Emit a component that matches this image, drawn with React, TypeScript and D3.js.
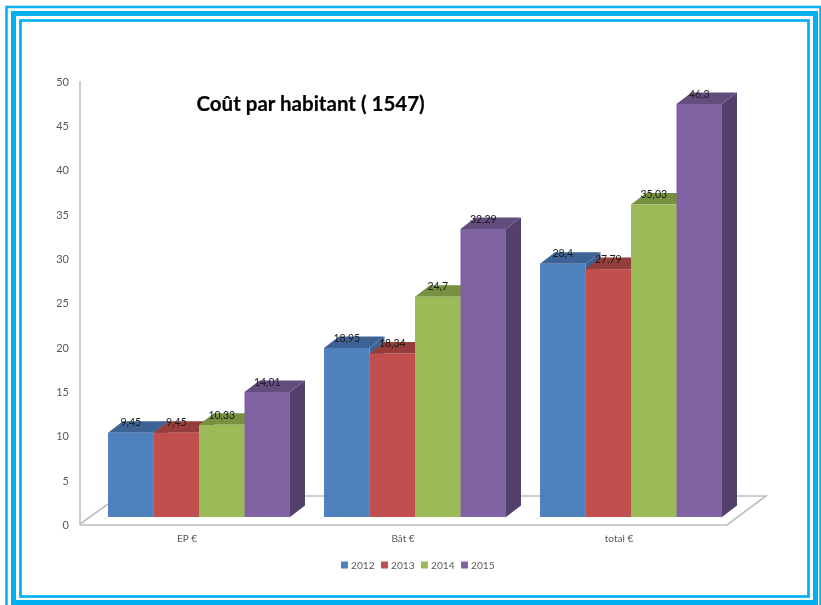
import React from "react";
import * as d3 from "d3";

const categories = ["EP €", "Bât €", "total €"];
const years = ["2012", "2013", "2014", "2015"];
const v2012 = [9.45, 18.95, 28.4];
const v2013 = [9.45, 18.34, 27.79];
const v2014 = [10.33, 24.7, 35.03];
const v2015 = [14.01, 32.29, 46.3];
const seriesValues = [v2012, v2013, v2014, v2015];
const labels2012 = ["9,45", "18,95", "28,4"];
const labels2013 = ["9,45", "18,34", "27,79"];
const labels2014 = ["10,33", "24,7", "35,03"];
const labels2015 = ["14,01", "32,29", "46,3"];
const seriesLabels = [labels2012, labels2013, labels2014, labels2015];
const yTicks = [0, 5, 10, 15, 20, 25, 30, 35, 40, 45, 50];
const frontColors = ["#4F81BD", "#C0504D", "#9BBB59", "#8064A2"];
const topColors = ["#3C6494", "#943D3A", "#779141", "#634D7E"];
const sideColors = ["#3C6494", "#943D3A", "#779141", "#533F6C"];

const FONT = "Lato, Carlito, Calibri, sans-serif";
const DX = 15;
const DY = 11.5;

export default function App() {
  const yAxis = d3.scaleLinear().domain([0, 50]).range([525, 82]);
  const yBar = d3.scaleLinear().domain([0, 50]).range([517, 71]);
  const xGroup = d3.scaleBand().domain(categories).range([108, 722]).paddingInner(34 / 216).paddingOuter(0);
  const xBar = d3.scaleBand().domain(years).range([0, xGroup.bandwidth()]);
  const base = yBar(0);

  const poly = (pts: [number, number][]) => d3.line()(pts) + "Z";
  const open = (pts: [number, number][]) => d3.line()(pts) as string;

  return (
    <svg width={821} height={605} style={{ position: "absolute", left: 0, top: 0, background: "#fff" }}>
      <defs>
        <filter id="soft" x="-5%" y="-5%" width="110%" height="110%">
          <feGaussianBlur stdDeviation="0.5" />
        </filter>
      </defs>
      {/* frame */}
      <g fill="none" stroke="#00B0F0">
        <rect x={6.5} y={7} width={814} height={602} strokeWidth={2.5} />
        <rect x={13.5} y={13.5} width={802} height={589} strokeWidth={5} />
        <rect x={20.5} y={20.5} width={788} height={576} strokeWidth={2.7} />
      </g>
      <g filter="url(#soft)">
        {/* floor and axis */}
        <g fill="none" stroke="#BFBFBF" strokeWidth={1.6}>
          <path d={open([[80, 524], [108, 504]])} />
          <path d={open([[108, 496], [766, 496], [727, 525], [80, 525]])} />
          <path d={open([[80, 81], [80, 525]])} />
        </g>
        {yTicks.map((t) => (
          <text key={t} x={69} y={yAxis(t)} dy="0.35em" textAnchor="end" fontFamily={FONT} fontSize={11} fill="#595959">
            {t}
          </text>
        ))}
        {categories.map((c) => (
          <text key={c} x={xGroup(c)! + xGroup.bandwidth() / 2 - 12} y={538} dy="0.35em" textAnchor="middle" fontFamily={FONT} fontSize={10} fill="#595959">
            {c}
          </text>
        ))}
        {/* bars */}
        {categories.map((c, ci) =>
          years.map((yr, si) => {
            const x0 = xGroup(c)! + xBar(yr)!;
            const x1 = x0 + xBar.bandwidth();
            const top = yBar(seriesValues[si][ci]);
            return (
              <g key={c + yr}>
                <path fill={sideColors[si]} d={poly([[x1, top], [x1 + DX, top - DY], [x1 + DX, base - DY], [x1, base]])} />
                <path fill={topColors[si]} d={poly([[x0, top], [x0 + DX, top - DY], [x1 + DX, top - DY], [x1, top]])} />
                <rect x={x0} y={top} width={xBar.bandwidth()} height={base - top} fill={frontColors[si]} />
              </g>
            );
          })
        )}
        {categories.map((c, ci) =>
          years.map((yr, si) => (
            <text
              key={c + yr}
              x={xGroup(c)! + xBar(yr)! + xBar.bandwidth() / 2}
              y={yBar(seriesValues[si][ci]) - 10}
              dy="0.35em"
              textAnchor="middle"
              fontFamily={FONT}
              fontSize={10.5}
              fill="#1a1a1a"
            >
              {seriesLabels[si][ci]}
            </text>
          ))
        )}
        {/* legend */}
        {years.map((yr, i) => (
          <g key={yr} transform={`translate(${341 + i * 40},565)`}>
            <rect x={0} y={-3.5} width={7} height={7} fill={frontColors[i]} />
            <text x={10} y={0} dy="0.35em" fontFamily={FONT} fontSize={10.2} fill="#595959">
              {yr}
            </text>
          </g>
        ))}
        <text x={196.5} y={104} dy="0.35em" fontFamily={FONT} fontSize={20.5} fontWeight={700} fill="#000" stroke="#000" strokeWidth={0.2}>
          Coût par habitant ( 1547)
        </text>
      </g>
    </svg>
  );
}
